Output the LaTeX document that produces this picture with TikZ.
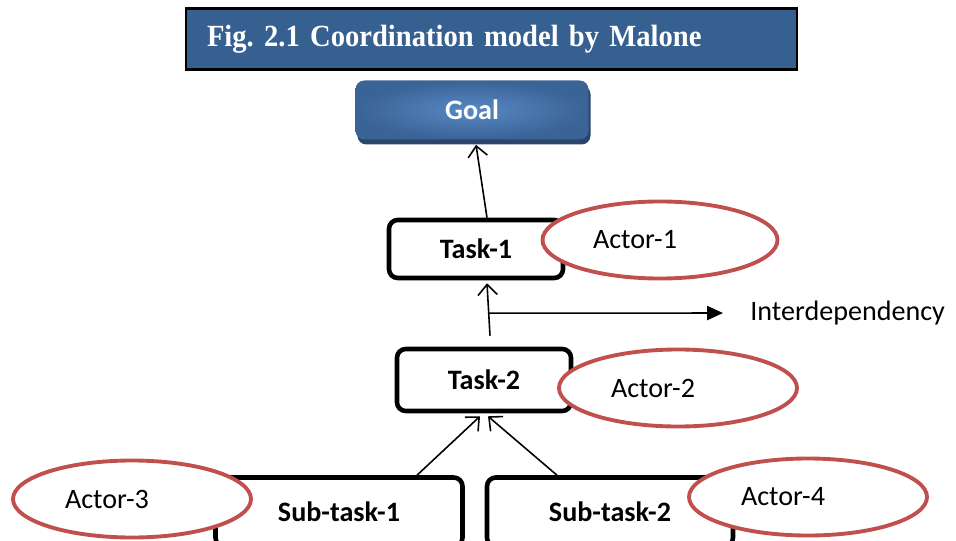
\documentclass[tikz,border=0pt]{standalone}
\usepackage{fontspec}
\setmainfont{Carlito}
\newfontfamily\titlefont[FakeStretch=0.93]{Liberation Serif}
\usetikzlibrary{arrows.meta,shapes.geometric,shadows,calc}
\definecolor{titleblue}{HTML}{36608F}
\definecolor{goalin}{HTML}{5888C4}
\definecolor{goalout}{HTML}{3A6396}
\definecolor{goalshadow}{HTML}{2B466B}
\definecolor{actorred}{HTML}{C0504D}
\begin{document}
\begin{tikzpicture}[x=1cm,y=1cm,
  every node/.style={font=\fontsize{16}{19}\selectfont},
  taskbox/.style={draw,line width=2.6pt,rounded corners=5pt,fill=white,font=\fontsize{16}{19}\selectfont\bfseries},
  actor/.style={ellipse,draw=actorred,line width=2.2pt,fill=white,minimum width=4.7cm,minimum height=1.54cm,inner sep=0pt},
  link/.style={-{Straight Barb[length=6pt,width=11pt]},line width=0.9pt}]
\clip (0,0) rectangle (19.12,-10.8);
\node[draw,line width=1.2pt,fill=titleblue,text=white,minimum height=1.22cm,text width=11.38cm,inner xsep=0.42cm,align=left,font=\titlefont\fontsize{17.5}{20}\selectfont\bfseries] (title) at (9.83,-0.78) {Fig.\ 2.1 Coordination model by Malone};
\node[rounded corners=5pt,inner color=goalin,outer color=goalout,text=white,minimum width=4.66cm,minimum height=1.18cm,font=\fontsize{16}{19}\selectfont\bfseries,drop shadow={shadow xshift=0.04cm,shadow yshift=-0.1cm,fill=goalshadow,opacity=1}] (goal) at (9.44,-2.2) {Goal};
\node[taskbox,minimum width=3.48cm,minimum height=1.16cm] (t1) at (9.52,-4.98) {Task-1};
\node[taskbox,minimum width=3.48cm,minimum height=1.24cm] (t2) at (9.68,-7.6) {Task-2};
\node[taskbox,minimum width=4.94cm,minimum height=1.38cm] (s1) at (6.78,-10.24) {Sub-task-1};
\node[taskbox,minimum width=4.92cm,minimum height=1.38cm] (s2) at (12.2,-10.24) {Sub-task-2};
\node[actor] (a1) at (13.2,-4.8) {Actor-1\hspace*{1cm}};
\node[actor,minimum width=4.76cm] (a2) at (13.56,-7.76) {Actor-2\hspace*{1cm}};
\node[actor,minimum width=4.76cm] (a3) at (2.64,-9.98) {Actor-3\hspace*{1cm}};
\node[actor,minimum width=4.76cm] (a4) at (16.16,-9.94) {Actor-4\hspace*{1cm}};
\node[anchor=west,inner sep=0pt] (dep-label) at (15.0,-6.26) {Interdependency};
\draw[link] ([xshift=0.22cm]t1.north) -- ([xshift=0.08cm,yshift=-0.1cm]goal.south);
\coordinate (t2top) at ([xshift=0.12cm,yshift=0.22cm]t2.north);
\coordinate (t1bot) at ([xshift=0.22cm,yshift=-0.06cm]t1.south);
\draw[link] (t2top) -- (t1bot);
\coordinate (dep) at ($(t2top)!0.43!(t1bot)$);
\draw[-{Triangle[length=9pt,width=8pt]},line width=0.9pt,shorten >=0.54cm] (dep) -- (dep-label.west);
\draw[link] ([xshift=1.56cm]s1.north) -- ([xshift=-0.08cm,yshift=-0.06cm]t2.south);
\draw[link] ([xshift=-1.06cm]s2.north) -- ([xshift=0.08cm,yshift=-0.06cm]t2.south);
\end{tikzpicture}
\end{document}
